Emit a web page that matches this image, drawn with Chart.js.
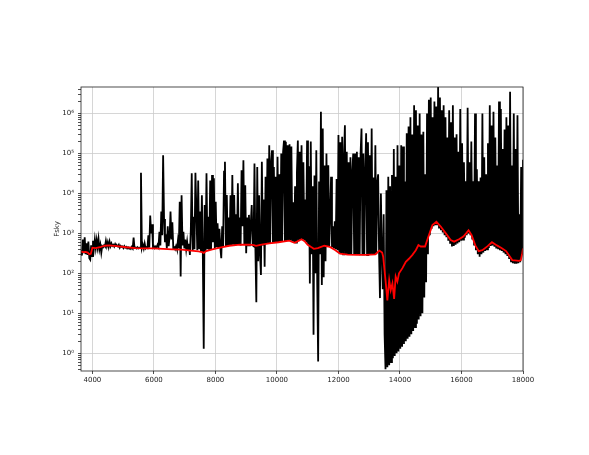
<!DOCTYPE html>
<html>
<head>
<meta charset="utf-8">
<script src="https://cdn.jsdelivr.net/npm/chart.js@4.4.1/dist/chart.umd.min.js"></script>
<style>
  html, body { margin: 0; padding: 0; background: #fff; }
  #wrap { width: 589px; height: 455px; }
</style>
</head>
<body>
<div id="wrap"><canvas id="skyChart" width="589" height="455"></canvas></div>
<script>
// sky spectrum, sampled every 30 A from 3630 A
const waveStart = 3630;
const waveStep = 30;

const flux3630 = [
  380, 280, 700, 320, 800, 300, 560, 290, 620, 240,
  220, 500, 270, 650, 420, 700, 430, 680, 450, 720,
  400, 520, 330, 480, 450, 500, 470, 650, 480, 600,
  460, 620, 480, 560, 490, 520, 470, 540, 480, 500,
  470, 520, 440, 490, 460, 470, 430, 480, 440, 460,
  420, 450, 430, 440, 410, 460, 420, 780, 430, 440,
  420, 450, 420, 440, 430, 3.3e4, 430, 520, 420, 560,
  420, 450, 430, 900, 440, 2800, 1000, 1700, 450, 480
];
const flux6030 = [
  430, 470, 440, 520, 460, 1100, 500, 3500, 900, 9e4,
  2300, 600, 950, 420, 1500, 480, 800, 3500, 700, 1900,
  430, 450, 400, 480, 400, 650, 420, 6200, 83, 9000,
  500, 1100, 420, 700, 400, 620, 380, 550, 290, 1200,
  3.2e4, 380, 2600, 400, 3.3e4, 4200, 380, 2.1e4, 400, 3500,
  350, 9000, 330, 1.3, 5100, 360, 3.2e4, 400, 2600, 380,
  2.1e4, 400, 2.9e4, 600, 2.4e4, 420, 6200, 450, 1800, 430,
  1300, 440, 240, 1500, 460, 3.5e4, 6.2e4, 470, 9100, 480
];
const flux8430 = [
  2500, 490, 9000, 500, 2.9e4, 520, 9100, 500, 3000, 510,
  1.8e4, 520, 2500, 500, 3.8e4, 1500, 6.8e4, 520, 1.6e4, 320,
  2500, 500, 2900, 480, 1800, 5100, 500, 480, 5.6e4, 400,
  19, 4.6e4, 200, 9000, 300, 91, 6.2e4, 500, 7000, 146,
  2.6e4, 550, 7.5e4, 560, 1.6e5, 570, 6e4, 1.2e5, 580, 4.6e4,
  590, 2.6e4, 600, 8.3e4, 600, 3e4, 610, 1e5, 620, 1.1e5,
  2.1e5, 630, 1.95e5, 640, 1.6e5, 650, 1.7e5, 660, 1.5e5, 640,
  6000, 580, 1.5e4, 590, 3.5e4, 2.1e5, 640, 1.1e5, 700, 1.6e5
];
const flux10830 = [
  700, 6e4, 660, 7000, 600, 2.1e5, 520, 4.8e4, 56, 2e5,
  300, 1.5e4, 2.9, 2.8e4, 100, 1.2e5, 60, 0.62, 2e4, 300,
  1.1e6, 51, 4.2e5, 80, 5e4, 200, 1e5, 480, 5.1e4, 460,
  3000, 2.6e4, 450, 1500, 420, 2000, 400, 2.3e4, 380, 2.9e5,
  320, 1.9e5, 310, 2.6e5, 300, 8e4, 5.1e5, 300, 1.1e5, 295,
  6e4, 295, 8e4, 290, 3.5e4, 1e5, 290, 1e5, 290, 1.1e5,
  290, 8e4, 285, 1e5, 4.2e5, 285, 1e5, 285, 3.5e4, 3.2e5,
  285, 1.9e5, 285, 9e4, 290, 4.2e5, 290, 2.5e4, 295, 1.6e5
];
const flux13230 = [
  300, 1.8e4, 3e4, 350, 24, 1e4, 300, 40, 3000, 3,
  0.4, 1.2e4, 0.45, 2.6e4, 0.5, 1.5e4, 0.6, 2.9e4, 0.75, 1.3e5,
  0.85, 2.6e4, 1.0, 1.6e5, 1.1, 5e4, 1.3, 1.6e5, 1.45, 1.5e5,
  1.7, 2e4, 2.0, 3.2e5, 2.3, 4.7e5, 2.6, 8e5, 3.0, 3e5,
  3.6, 1.6e6, 4.5, 1.2e6, 5.5, 5e5, 7, 1e6, 8.5, 3e5,
  10, 3.5e5, 25, 3e4, 60, 1e6, 300, 2.2e6, 900, 2.5e6,
  1300, 8e5, 1500, 2e6, 1600, 1.5e6, 1600, 4.6e6, 1400, 2.5e6,
  1200, 1.2e6, 1050, 1.6e6, 900, 8e5, 800, 2.5e5, 650, 1.2e6
];
const flux15630 = [
  550, 6e5, 470, 1.6e6, 480, 2.5e5, 520, 3e5, 560, 1.1e5,
  600, 1.3e6, 650, 1.8e5, 700, 6e4, 780, 2e4, 900, 1.4e6,
  1000, 6e4, 900, 2e5, 700, 2e4, 500, 1e6, 380, 4e4,
  300, 2e4, 260, 2.5e4, 300, 1e6, 330, 8e4, 360, 3e4,
  400, 1.8e5, 430, 1.6e6, 480, 5e5, 500, 1.1e6, 460, 2.5e5,
  420, 5e4, 400, 2e6, 380, 1.3e6, 360, 1.3e5, 330, 4e5,
  300, 8e5, 270, 5e5, 230, 3.5e6, 200, 5e4, 180, 1e6,
  175, 1.3e5, 175, 9e5, 180, 3e3, 190, 4.6e4, 300, 7e4
];

// smooth continuum (red)
const contWave = [
  3630, 3700, 3780, 3850, 3900, 3950, 4000, 4100, 4250, 4400,
  4550, 4800, 5100, 5400, 5700, 6000, 6300, 6600, 6900, 7200,
  7450, 7570, 7620, 7700, 7900, 8150, 8450, 8800, 9100, 9250,
  9320, 9500, 9750, 10050, 10400, 10570, 10650, 10800, 10900, 11000,
  11100, 11200, 11330, 11540, 11720, 11900, 12050, 12300, 12600, 12900,
  13200, 13330, 13420, 13455, 13540, 13590, 13650, 13700, 13755, 13810,
  13860, 13915, 13970, 14080, 14190, 14300, 14405, 14515, 14600, 14675,
  14815, 14925, 15055, 15185, 15325, 15490, 15650, 15760, 15920, 16060,
  16150, 16230, 16330, 16450, 16560, 16680, 16850, 16990, 17150, 17300,
  17450, 17560, 17650, 17880, 17930, 17970, 18000
];
const contFlux = [
  350, 340, 345, 330, 300, 310, 440, 430, 450, 490,
  500, 480, 450, 430, 420, 420, 410, 400, 390, 370,
  355, 340, 325, 360, 400, 440, 490, 520, 525, 510,
  485, 520, 560, 600, 660, 580, 620, 710, 640, 520,
  460, 410, 430, 490, 460, 380, 310, 295, 290, 290,
  300, 370, 330, 260, 56, 21, 68, 38, 56, 23,
  83, 62, 100, 135, 195, 235, 290, 380, 510, 470,
  470, 830, 1620, 1950, 1480, 1000, 680, 620, 710, 830,
  1000, 1200, 900, 500, 360, 380, 480, 600, 500, 430,
  360, 270, 215, 205, 215, 300, 420
];

const xTicks = [4000, 6000, 8000, 10000, 12000, 14000, 16000, 18000];
const xMin = 3630, xMax = 18000;
const yMin = 0.36, yMax = 4.6e6;

const skyFlux = [].concat(flux3630, flux6030, flux8430, flux10830, flux13230, flux15630);
const skyPoints = skyFlux.map((f, i) => ({ x: waveStart + i * waveStep, y: f }));
const contPoints = contWave.map((w, i) => ({ x: w, y: contFlux[i] }));

const SUP = { '0': '⁰', '1': '¹', '2': '²', '3': '³', '4': '⁴', '5': '⁵', '6': '⁶', '-': '⁻' };
const supNum = n => String(n).split('').map(c => SUP[c]).join('');

// matplotlib style frame round the plot area
const framePlugin = {
  id: 'frame',
  afterDatasetsDraw(chart) {
    const { ctx, chartArea: a } = chart;
    ctx.save();
    ctx.strokeStyle = '#222';
    ctx.lineWidth = 0.8;
    ctx.strokeRect(a.left, a.top, a.right - a.left, a.bottom - a.top);
    ctx.restore();
  }
};

const tickFont = { family: 'DejaVu Sans', size: 7 };

new Chart(document.getElementById('skyChart'), {
  type: 'line',
  data: {
    datasets: [{
      label: 'continuum',
      data: contPoints,
      borderColor: '#ff0000',
      borderWidth: 1.8,
      pointRadius: 0,
      tension: 0,
      order: 0
    }, {
      label: 'Fsky',
      data: skyPoints,
      borderColor: '#000000',
      borderWidth: 1.8,
      borderJoinStyle: 'miter',
      pointRadius: 0,
      tension: 0,
      order: 1
    }]
  },
  plugins: [framePlugin],
  options: {
    responsive: false,
    animation: false,
    events: [],
    layout: { padding: { top: 87, right: 66, left: 50, bottom: 0 } },
    plugins: { legend: { display: false }, tooltip: { enabled: false } },
    scales: {
      x: {
        type: 'linear',
        min: xMin,
        max: xMax,
        afterBuildTicks: s => { s.ticks = xTicks.map(v => ({ value: v })); },
        afterFit: s => { s.height = 84; },
        ticks: {
          autoSkip: false,
          maxRotation: 0,
          padding: 2,
          color: '#222',
          font: tickFont,
          callback: v => String(v)
        },
        grid: { color: '#cccccc', lineWidth: 0.8, tickColor: '#222', tickLength: 3 },
        border: { display: false }
      },
      y: {
        type: 'logarithmic',
        min: yMin,
        max: yMax,
        afterBuildTicks: s => {
          const t = [];
          for (let e = -1; e <= 6; e++) {
            for (let m = 1; m < 10; m++) {
              const v = m * Math.pow(10, e);
              if (v >= yMin && v <= yMax) t.push({ value: v, major: m === 1 });
            }
          }
          s.ticks = t;
        },
        afterFit: s => { s.width = 31; },
        ticks: {
          autoSkip: false,
          padding: 4,
          color: '#222',
          font: tickFont,
          callback: (v, i, ticks) => ticks[i].major ? '10' + supNum(Math.round(Math.log10(v))) : ''
        },
        grid: {
          color: c => (c.tick && c.tick.major) ? '#cccccc' : 'rgba(0,0,0,0)',
          lineWidth: 0.8,
          tickColor: '#222',
          tickLength: 3
        },
        border: { display: false },
        title: {
          display: true,
          text: 'Fsky',
          color: '#222',
          font: { family: 'DejaVu Sans', size: 7 },
          padding: { top: 3, bottom: 0 }
        }
      }
    }
  }
});
</script>
</body>
</html>
